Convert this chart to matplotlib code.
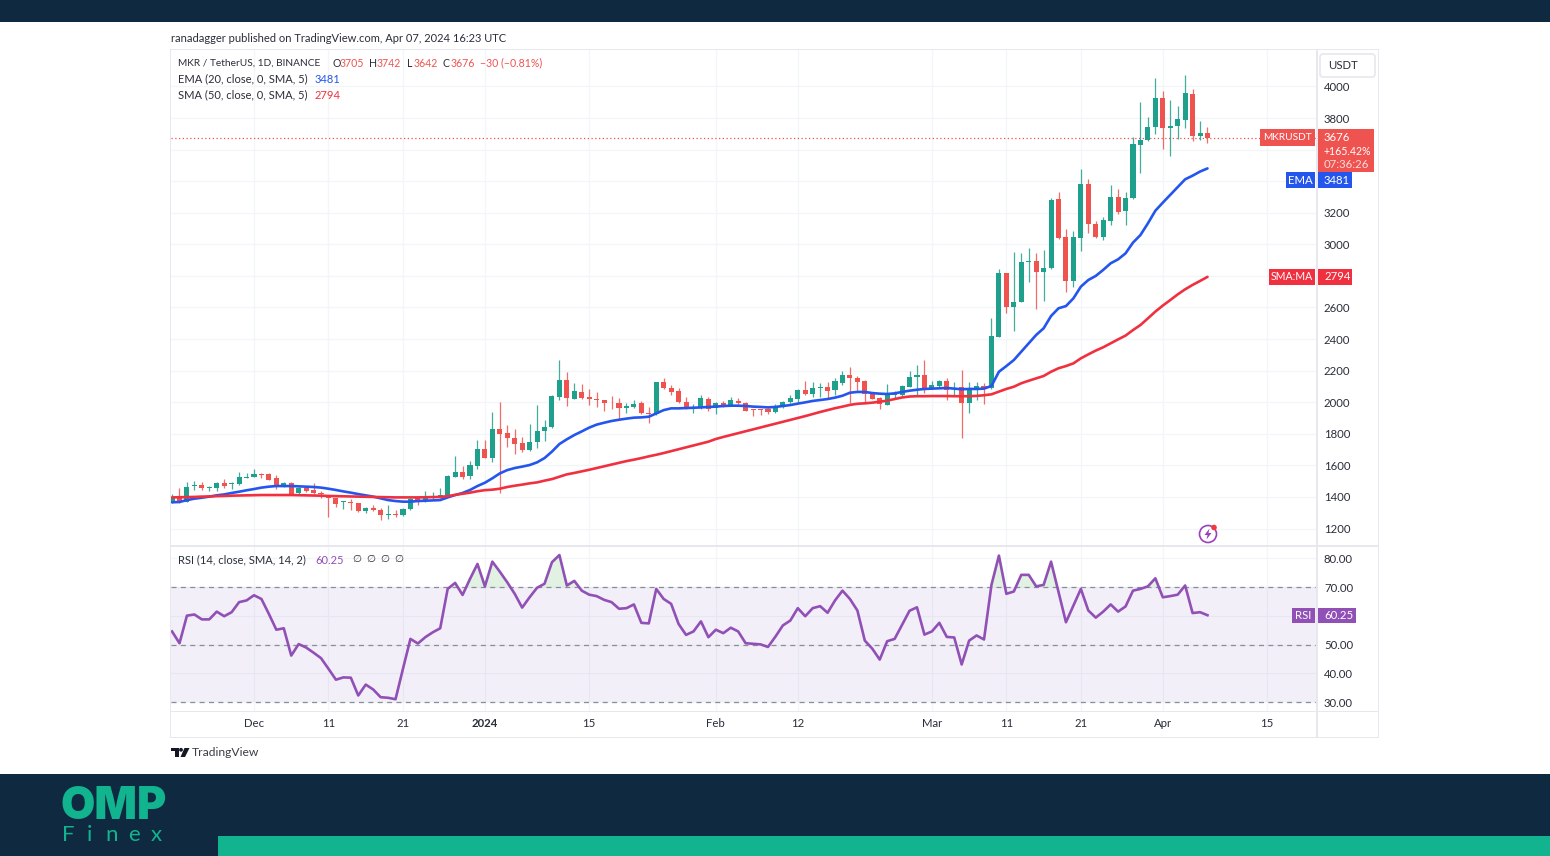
import matplotlib
matplotlib.use("Agg")
import matplotlib.pyplot as plt
from matplotlib.patches import Rectangle, FancyBboxPatch, Circle, Polygon

plt.rcParams['font.family'] = ['Lato', 'DejaVu Sans']

# days counted from Dec 1 2023, first candle is Nov 20
first_day = -11

opens = [1364,1397,1370,1470,1473,1456,1454,1490,1480,1484,1522,1526,1547,1543,1518,1478,1490,1423,1459,1442,
         1427,1410,1391,1366,1368,1359,1309,1328,1317,1288,1294,1285,1321,1395,1380,1395,1401,1410,1526,1560,
         1532,1596,1701,1649,1828,1807,1775,1739,1695,1748,1818,1841,2035,2138,2022,2067,2031,2020,2014,1997,
         1993,1965,1972,1993,1934,1925,2126,2092,2073,2001,1961,1963,2020,1963,1997,1980,2010,1997,1959,1959,
         1955,1936,1970,2003,2022,2077,2050,2092,2098,2077,2119,2172,2155,2132,2050,2024,1984,2046,2046,2098,
         2162,2172,2088,2103,2136,2084,2094,1993,2077,2103,2088,2415,2816,2601,2633,2890,2897,2825,2848,3285,
         3045,2770,3042,3380,3131,3047,3150,3302,3209,3292,3632,3661,3741,3927,3737,3748,3788,3953,3684,3705]
highs = [1418,1454,1497,1503,1497,1471,1497,1511,1497,1558,1554,1575,1549,1549,1539,1497,1497,1465,1465,1490,
         1440,1412,1391,1376,1385,1364,1338,1347,1328,1349,1317,1328,1391,1401,1440,1433,1458,1539,1659,1596,
         1630,1761,1761,1936,2003,1858,1830,1782,1862,1982,1887,2043,2267,2189,2119,2113,2086,2062,2014,2041,
         2024,1993,2014,2008,1972,2126,2151,2109,2092,2031,1989,2043,2035,2003,2008,2031,2029,2003,1959,1959,
         1961,1986,2010,2046,2081,2136,2126,2119,2130,2151,2200,2225,2166,2141,2067,2035,2115,2071,2107,2196,
         2238,2267,2136,2141,2151,2130,2204,2130,2130,2124,2531,2842,2816,2952,2947,2975,2943,2964,3292,3332,
         3095,3085,3475,3412,3150,3171,3376,3349,3330,3682,3900,3805,4052,3974,3915,3877,4075,3986,3784,3742]
lows = [1359,1364,1366,1444,1444,1437,1440,1454,1450,1476,1520,1524,1522,1507,1450,1465,1412,1416,1433,1418,
        1395,1275,1338,1321,1317,1304,1300,1313,1254,1260,1271,1281,1317,1349,1370,1385,1391,1406,1524,1511,
        1516,1579,1649,1621,1427,1714,1672,1687,1691,1712,1752,1839,2014,1976,2018,2018,1982,1972,1946,1955,
        1896,1934,1965,1925,1866,1921,2081,2046,1997,1955,1934,1959,1946,1925,1967,1976,1989,1942,1913,1921,
        1923,1932,1961,1995,1993,2046,2035,2035,2024,2046,2109,1993,2067,1993,2018,1957,1980,2020,2041,2094,
        2039,2056,2084,2098,2014,2046,1771,1934,2014,1989,2084,2415,2567,2451,2633,2759,2590,2641,2844,3034,
        2700,2732,2960,3070,3042,3028,3120,3190,3120,3287,3450,3657,3699,3602,3562,3670,3737,3655,3661,3642]
closes = [1402,1370,1465,1476,1459,1465,1490,1469,1490,1524,1528,1547,1541,1509,1475,1486,1418,1459,1437,1423,
          1418,1393,1357,1372,1364,1309,1330,1315,1285,1294,1288,1323,1387,1376,1397,1401,1410,1532,1558,1526,
          1600,1701,1649,1828,1801,1773,1737,1695,1750,1815,1845,2039,2138,2024,2073,2024,2018,2014,1997,1993,
          1963,1976,1989,1929,1925,2126,2092,2067,2001,1959,1970,2027,1955,1997,1976,2012,1997,1946,1950,1953,
          1936,1972,2003,2024,2077,2052,2090,2098,2073,2132,2172,2151,2130,2050,2022,1989,2046,2052,2103,2162,
          2172,2077,2107,2136,2077,2092,1993,2077,2103,2081,2419,2816,2601,2633,2890,2897,2825,2848,3281,3038,
          2770,3045,3380,3129,3047,3154,3302,3207,3296,3636,3661,3746,3927,3737,3752,3792,3957,3684,3703,3676]

ema_20 = [1366,1368,1380,1389,1395,1402,1410,1416,1425,1433,1442,1450,1459,1465,1469,1469,1469,1467,1465,1463,
          1459,1452,1444,1435,1427,1418,1410,1402,1391,1380,1374,1370,1370,1374,1376,1378,1380,1397,1412,1425,
          1444,1469,1490,1518,1549,1570,1583,1592,1602,1619,1646,1687,1735,1765,1792,1815,1839,1858,1870,1881,
          1889,1896,1902,1904,1908,1929,1950,1961,1961,1963,1965,1967,1970,1972,1976,1978,1978,1976,1972,1970,
          1967,1970,1976,1982,1991,1999,2008,2014,2020,2029,2041,2060,2065,2065,2058,2054,2052,2056,2065,2073,
          2079,2084,2086,2088,2090,2086,2082,2084,2084,2086,2103,2193,2229,2267,2320,2373,2426,2468,2546,2595,
          2609,2658,2732,2774,2800,2838,2880,2905,2943,3011,3059,3133,3213,3264,3313,3361,3412,3435,3461,3481]
sma_50 = [1397,1398,1399,1400,1402,1403,1405,1406,1408,1409,1410,1411,1412,1412,1412,1412,1412,1411,1410,1409,
          1408,1406,1405,1404,1403,1402,1401,1400,1399,1398,1397,1397,1397,1397,1398,1399,1400,1405,1413,1420,
          1427,1436,1443,1446,1452,1463,1471,1478,1486,1492,1503,1513,1528,1543,1552,1562,1572,1583,1594,1605,
          1616,1627,1636,1646,1657,1667,1678,1690,1702,1714,1726,1738,1750,1767,1780,1792,1804,1816,1828,1840,
          1852,1864,1876,1888,1900,1912,1925,1938,1950,1962,1972,1983,1990,1993,1997,2003,2010,2020,2030,2036,
          2038,2038,2039,2039,2039,2038,2038,2038,2040,2044,2050,2067,2084,2098,2120,2136,2151,2166,2193,2215,
          2229,2246,2278,2303,2327,2348,2373,2398,2422,2457,2489,2531,2574,2612,2647,2683,2715,2743,2768,2794]
rsi_14 = [54.6,50.5,60.1,60.5,58.8,58.8,61.5,59.9,61.3,64.8,65.4,67.2,65.9,60.7,55.2,55.7,46.2,50.2,49.0,47.2,
          45.3,41.6,37.8,38.6,38.5,32.3,36.1,34.4,31.7,31.5,31.0,41.6,52.0,50.4,52.6,54.3,55.7,69.4,71.5,67.3,
          72.9,78.1,70.3,78.9,75.4,71.7,67.7,62.9,66.5,69.8,71.2,78.7,81.2,70.6,72.2,68.8,67.4,66.9,65.6,64.8,
          62.5,62.7,64.0,57.6,57.4,69.4,65.9,64.2,57.2,53.4,54.6,58.1,52.6,55.2,54.0,55.9,54.6,50.5,50.3,50.1,
          49.2,52.8,56.7,58.4,62.7,59.9,62.7,63.4,61.1,65.4,68.8,65.9,61.9,51.4,48.6,44.8,51.2,52.0,56.9,61.8,
          63.0,53.5,54.6,57.6,52.7,52.5,43.1,51.4,53.2,51.8,70.8,81.0,67.7,68.5,74.3,74.3,70.3,70.8,78.9,68.3,
          57.8,63.6,69.4,61.9,59.4,61.5,64.0,61.5,63.3,68.8,69.4,70.3,73.1,66.5,66.9,67.4,70.6,61.0,61.3,60.25]

date_ticks = [0, 10, 20, 31, 45, 62, 73, 91, 101, 111, 122, 136]
date_labels = ['Dec', '11', '21', '2024', '15', 'Feb', '12', 'Mar', '11', '21', 'Apr', '15']
price_ticks = list(range(1200, 4200, 200))
price_hidden = [3400, 3600]
rsi_ticks = [80, 70, 60, 50, 40, 30]
rsi_lines = [70, 50, 30]

days = [first_day + i for i in range(len(closes))]

GREEN = '#1fa08c'
RED = '#ef5350'
BLUE = '#2456ee'
SMA_RED = '#f0303f'
PURPLE = '#9150b5'
TEXT = '#2a2e39'
GRID = '#f4f5f9'
BORDER = '#e6e8ee'
NAVY = '#0f2a40'
TEAL = '#11b48e'

W, H = 1550, 856
fig = plt.figure(figsize=(W / 100, H / 100), dpi=100, facecolor='white')


def box(x0, y0, x1, y1):
    return [x0 / W, 1 - y1 / H, (x1 - x0) / W, (y1 - y0) / H]


# price pane
ax = fig.add_axes(box(171, 50, 1317, 545))
ax.set_xlim(-11.14, 142.7)
ax.set_ylim(1095.5, 4231)
for d, o, h, l, c in zip(days, opens, highs, lows, closes):
    col = GREEN if c >= o else RED
    ax.vlines(d, l, h, color=col, lw=0.9, alpha=0.85, zorder=3)
    ax.bar(d, abs(c - o), bottom=min(o, c), width=0.68, color=col, linewidth=0, zorder=3)
ax.plot(days, ema_20, color=BLUE, lw=1.9, zorder=4, solid_capstyle='round')
ax.plot(days, sma_50, color=SMA_RED, lw=1.9, zorder=4, solid_capstyle='round')
ax.axhline(closes[-1], color=RED, lw=0.9, ls=(0, (1, 2)), zorder=2)
ax.set_yticks(price_ticks)
ax.set_yticklabels(['' if p in price_hidden else str(p) for p in price_ticks])
ax.yaxis.tick_right()
ax.set_xticks(date_ticks)
ax.set_xticklabels([])
ax.grid(True, color=GRID, lw=1)
ax.set_axisbelow(True)
ax.tick_params(length=0, labelsize=8.2, labelcolor=TEXT, pad=5)
for s in ax.spines.values():
    s.set_visible(False)

# rsi pane
ax2 = fig.add_axes(box(171, 547, 1317, 711))
ax2.set_xlim(ax.get_xlim())
ax2.set_ylim(26.9, 84.0)
ax2.axhspan(rsi_lines[2], rsi_lines[0], color='#7e57c2', alpha=0.09, lw=0, zorder=1)
ax2.fill_between(days, 70, rsi_14, where=[r >= 70 for r in rsi_14], interpolate=True,
                 color='#4caf50', alpha=0.16, lw=0, zorder=1)
for v in rsi_lines:
    ax2.axhline(v, color='#8a8d96', lw=0.9, ls=(0, (4, 3.5)), zorder=2)
ax2.plot(days, rsi_14, color=PURPLE, lw=1.9, zorder=4)
ax2.set_yticks(rsi_ticks)
ax2.set_yticklabels(['' if v == 60 else '%.2f' % v for v in rsi_ticks])
ax2.yaxis.tick_right()
ax2.set_xticks(date_ticks)
ax2.set_xticklabels(date_labels)
ax2.get_xticklabels()[3].set_fontweight('bold')
ax2.grid(True, color=GRID, lw=1)
ax2.set_axisbelow(True)
ax2.tick_params(length=0, labelsize=8.2, labelcolor=TEXT, pad=5)
ax2.tick_params(axis='x', pad=5)
for s in ax2.spines.values():
    s.set_visible(False)

# overlay in pixel coordinates for bands, frame, tags and header text
ov = fig.add_axes([0, 0, 1, 1], facecolor='none')
ov.set_xlim(0, W)
ov.set_ylim(H, 0)
ov.axis('off')


def rect(x0, y0, x1, y1, col, **kw):
    ov.add_patch(Rectangle((x0, y0), x1 - x0, y1 - y0, facecolor=col, edgecolor='none', **kw))


def txt(x, y, s, col=TEXT, size=8.2, ha='left', **kw):
    ov.text(x, y, s, color=col, fontsize=size, ha=ha, va='center', **kw)


def value_y(axis, v):
    return H - axis.transData.transform((0, v))[1]


rect(0, 0, W, 22, NAVY)
rect(0, 774, W, H, NAVY)
rect(218, 836, W, H, TEAL)

# chart frame
for x0, y0, x1, y1 in [(171, 49, 1379, 50), (171, 737, 1379, 738), (1378, 49, 1379, 738),
                       (1316, 50, 1318, 738), (171, 545, 1379, 547), (171, 711, 1379, 712),
                       (170, 49, 171, 738)]:
    rect(x0, y0, x1, y1, BORDER)

txt(171, 38, 'ranadagger published on TradingView.com, Apr 07, 2024 16:23 UTC', size=8)

# header legend
txt(178, 63, 'MKR / TetherUS, 1D, BINANCE', size=7.3)
for x, s, col in [(332.5, 'O', TEXT), (340, '3705', RED), (369.5, 'H', TEXT), (377, '3742', RED),
                  (407.5, 'L', TEXT), (414, '3642', RED), (442.5, 'C', TEXT), (450.5, '3676', RED),
                  (480, '\u221230 (\u22120.81%)', RED)]:
    txt(x, 63, s, col, size=7.6)
txt(178, 79, 'EMA (20, close, 0, SMA, 5)', size=8)
txt(315, 79, str(ema_20[-1]), BLUE, size=8)
txt(178, 95, 'SMA (50, close, 0, SMA, 5)', size=8)
txt(315, 95, str(sma_50[-1]), SMA_RED, size=8)
txt(178, 560, 'RSI (14, close, SMA, 14, 2)', size=8)
txt(315, 560, '%.2f' % rsi_14[-1], PURPLE, size=8)
for x in [352.5, 366.5, 380.5, 394.5]:
    txt(x, 560, '\u2205', size=7.5)

# USDT box
ov.add_patch(FancyBboxPatch((1320, 54), 55, 23, boxstyle='round,pad=0,rounding_size=3',
                            facecolor='white', edgecolor=BORDER, lw=1.2))
txt(1328, 65.5, 'USDT', size=8.2)

# price tags, the ema one gets pushed below the price tag
y = value_y(ax, closes[-1])
rect(1260, y - 8.5, 1315, y + 8.5, RED)
txt(1287.5, y, 'MKRUSDT', 'white', ha='center', size=7.3)
rect(1318, y - 8.5, 1374, y + 34, RED)
txt(1324, y, str(closes[-1]), 'white')
txt(1324, y + 13.5, '+165.42%', 'white', size=7.6)
txt(1324, y + 26.5, '07:36:26', '#fbdcdc')

y = 180
rect(1286, y - 8, 1315, y + 8, BLUE)
txt(1300.5, y, 'EMA', 'white', ha='center')
rect(1318, y - 8, 1352, y + 8, BLUE)
txt(1324, y, str(ema_20[-1]), 'white')

y = value_y(ax, sma_50[-1])
rect(1269, y - 8, 1315, y + 8, SMA_RED)
txt(1292, y, 'SMA:MA', 'white', ha='center', size=7.6)
rect(1318, y - 8, 1352, y + 8, SMA_RED)
txt(1324, y, str(sma_50[-1]), 'white')

y = value_y(ax2, rsi_14[-1])
rect(1292, y - 7.5, 1315, y + 7.5, PURPLE)
txt(1303.5, y, 'RSI', 'white', ha='center')
rect(1318, y - 7.5, 1356, y + 7.5, PURPLE)
txt(1324, y, '%.2f' % rsi_14[-1], 'white')

# lightning icon
ov.add_patch(Circle((1208, 534), 8.5, facecolor='white', edgecolor='#9c3fc0', lw=1.2, zorder=6))
ov.add_patch(Polygon([(1209.5, 528.5), (1204.5, 535), (1207.5, 535), (1206.5, 539.5),
                      (1211.5, 533), (1208.5, 533)], facecolor='#9c3fc0', edgecolor='none', zorder=7))
ov.add_patch(Circle((1214, 527.5), 2.8, facecolor='#ef3b3b', edgecolor='none', zorder=8))

# tradingview mark
rect(171, 748, 178.5, 751.2, '#131722')
rect(174.5, 748, 178.5, 757, '#131722')
ov.add_patch(Circle((181, 749.8), 1.9, facecolor='#131722', edgecolor='none'))
ov.add_patch(Polygon([(180.5, 757), (184.5, 748), (189.5, 748), (185, 757)],
                     facecolor='#131722', edgecolor='none'))
txt(192, 752.5, 'TradingView', '#3a3e48', size=8.7)

# site logo
txt(61, 807, 'OMP', TEAL, size=32, family='Inter', fontweight='black')
for x, s in zip([62, 87, 105, 128, 151], 'Finex'):
    txt(x, 835, s, TEAL, size=16, family='Lato')

fig.savefig('out.png', dpi=100, facecolor='white')
